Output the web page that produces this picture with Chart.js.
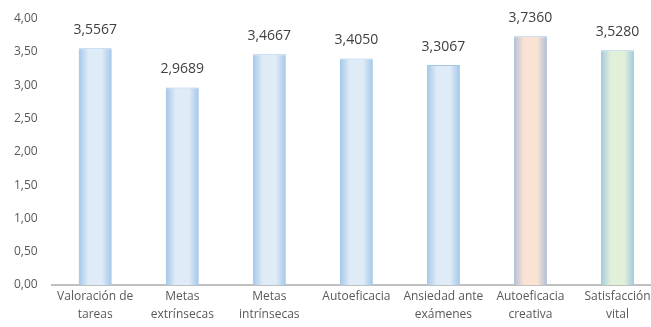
<!DOCTYPE html>
<html lang="es">
  <head>
    <meta charset="UTF-8" />
    <script src="https://cdn.jsdelivr.net/npm/chart.js@4.4.0/dist/chart.umd.min.js"></script>
    <title>Medias por escala</title>
    <style>
      html, body {
        margin: 0;
        padding: 0;
        background: #fff;
        overflow: hidden;
      }
      .container {
        width: 661px;
        height: 327px;
      }
    </style>
  </head>
  <body>
    <div class="container">
      <canvas id="medias"></canvas>
    </div>
    <script>
      const categories = [
        ['Valoración de', 'tareas'],
        ['Metas', 'extrínsecas'],
        ['Metas', 'intrínsecas'],
        ['Autoeficacia'],
        ['Ansiedad ante', 'exámenes'],
        ['Autoeficacia', 'creativa'],
        ['Satisfacción', 'vital'],
      ]
      const medias = [3.5567, 2.9689, 3.4667, 3.405, 3.3067, 3.736, 3.528]
      // edge colour / centre colour of each bar's fill
      const edgeColors = ['#a4c7e8', '#a4c7e8', '#a4c7e8', '#a4c7e8', '#a4c7e8', '#b0c0d8', '#a3cadf']
      const centerColors = ['#dfebf7', '#dfebf7', '#dfebf7', '#dfebf7', '#dfebf7', '#fbe3d4', '#e2f0d9']
      const barPct = 0.38

      const fmt = (v, d) => v.toFixed(d).replace('.', ',')
      const textColor = '#595959'
      const fontFamily = "'Open Sans', 'Liberation Sans', sans-serif"

      // horizontal gradient: darker at both sides, light in the middle
      const barFill = (context) => {
        const chart = context.chart
        const i = context.dataIndex
        const xs = chart.scales.x
        if (!xs || !chart.chartArea || xs.width === undefined) return edgeColors[i]
        const cx = xs.getPixelForValue(i)
        const half = (xs.width / categories.length) * barPct / 2
        const g = chart.ctx.createLinearGradient(cx - half, 0, cx + half, 0)
        g.addColorStop(0, edgeColors[i])
        g.addColorStop(0.3, centerColors[i])
        g.addColorStop(0.7, centerColors[i])
        g.addColorStop(1, edgeColors[i])
        return g
      }

      const valueLabels = {
        id: 'valueLabels',
        afterDatasetsDraw(chart) {
          const ctx = chart.ctx
          const meta = chart.getDatasetMeta(0)
          ctx.save()
          ctx.font = '14px ' + fontFamily
          ctx.fillStyle = '#404040'
          ctx.textAlign = 'center'
          ctx.textBaseline = 'bottom'
          meta.data.forEach((bar, i) => {
            ctx.fillText(fmt(medias[i], 4), bar.x, bar.y - 11)
          })
          ctx.restore()
        },
      }

      new Chart(document.getElementById('medias'), {
        type: 'bar',
        data: {
          labels: categories,
          datasets: [
            {
              data: medias,
              backgroundColor: barFill,
              borderColor: edgeColors,
              borderWidth: { top: 1, left: 0, right: 0, bottom: 0 },
              borderSkipped: 'start',
              barPercentage: barPct,
              categoryPercentage: 1,
            },
          ],
        },
        options: {
          responsive: true,
          maintainAspectRatio: false,
          animation: false,
          events: [],
          layout: { padding: { top: 10, left: 0, right: 0, bottom: 0 } },
          plugins: {
            legend: { display: false },
            tooltip: { enabled: false },
          },
          scales: {
            x: {
              grid: { display: false, drawTicks: false },
              border: { color: '#bfbfbf', width: 2 },
              ticks: {
                color: textColor,
                font: { family: fontFamily, size: 12, lineHeight: 1.5 },
                maxRotation: 0,
                autoSkip: false,
                padding: 3,
              },
            },
            y: {
              min: 0,
              max: 4,
              grid: { display: false, drawTicks: false },
              border: { display: false },
              ticks: {
                stepSize: 0.5,
                color: textColor,
                font: { family: fontFamily, size: 12, lineHeight: 0.8 },
                padding: 14,
                callback: (v) => fmt(v, 2),
              },
            },
          },
        },
        plugins: [valueLabels],
      })
    </script>
  </body>
</html>
